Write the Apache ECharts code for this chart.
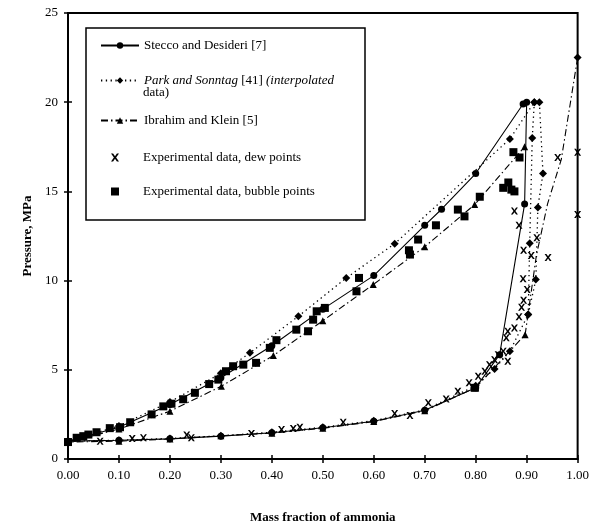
<!DOCTYPE html>
<html><head><meta charset="utf-8">
<script src="https://cdn.jsdelivr.net/npm/echarts@6/dist/echarts.min.js"></script>
<style>html,body{margin:0;padding:0;background:#fff}#c{width:592px;height:531px}</style>
</head><body><div id="c"></div>
<script>
// ---------- data (mass fraction, pressure MPa) ----------
const steccoData = [[0,1.0],[0.1,1.78],[0.2,3.05],[0.3,4.55],[0.4,6.35],[0.5,8.4],[0.6,10.28],[0.7,13.1],[0.733,14.0],[0.8,16.0],[0.893,19.9],[0.9,20.0],[0.896,14.3],[0.847,5.85],[0.8,4.0],[0.7,2.73],[0.6,2.12],[0.5,1.75],[0.4,1.47],[0.3,1.28],[0.2,1.13],[0.1,1.05],[0,1.0]];
const parkMain = [[0,1.0],[0.1,1.85],[0.2,3.2],[0.3,4.8],[0.357,5.95],[0.452,8.0],[0.546,10.15],[0.641,12.07],[0.867,17.94],[0.915,20.0],[0.925,20.0],[0.932,16.0],[0.922,14.1],[0.918,10.06],[0.903,8.1],[0.867,6.04],[0.837,5.05],[0.8,4.1],[0.7,2.75],[0.6,2.15],[0.5,1.78],[0.4,1.5],[0.3,1.3],[0.2,1.15],[0.1,1.05],[0,1.0]];
const parkExtra = [[0.915,20.0],[0.911,18.0],[0.906,12.1],[0.903,8.1]];
const parkPure = [[1.0,22.5]];
const ibrahimBubble = [[0,0.95],[0.1,1.68],[0.2,2.68],[0.301,4.08],[0.403,5.8],[0.5,7.75],[0.599,9.78],[0.7,11.9],[0.798,14.26],[0.896,17.5]];
const ibrahimDew = [[1.0,22.5],[0.968,16.8],[0.941,14.3],[0.919,11.4],[0.897,6.97],[0.8,4.0],[0.7,2.7],[0.6,2.1],[0.5,1.72],[0.4,1.45],[0.3,1.3],[0.2,1.12],[0.1,1.0],[0,0.95]];
const dewPoints = [[0.063,1.0],[0.126,1.15],[0.148,1.19],[0.233,1.35],[0.242,1.19],[0.36,1.43],[0.419,1.65],[0.442,1.71],[0.455,1.78],[0.54,2.06],[0.641,2.55],[0.671,2.44],[0.707,3.15],[0.742,3.37],[0.765,3.8],[0.787,4.27],[0.805,4.64],[0.818,4.92],[0.827,5.29],[0.837,5.57],[0.854,6.04],[0.844,5.85],[0.863,5.48],[0.863,7.16],[0.86,6.79],[0.876,7.35],[0.885,7.97],[0.89,8.5],[0.894,8.9],[0.901,9.5],[0.893,10.1],[0.909,11.4],[0.894,11.7],[0.942,11.3],[0.92,12.4],[0.885,13.1],[0.876,13.9],[0.961,16.9],[1.0,17.2],[1.0,13.7]];
const bubblePoints = [[0,0.95],[0.017,1.19],[0.03,1.28],[0.04,1.37],[0.056,1.5],[0.082,1.73],[0.102,1.78],[0.122,2.06],[0.164,2.5],[0.187,2.95],[0.203,3.1],[0.226,3.35],[0.249,3.71],[0.277,4.2],[0.295,4.45],[0.31,4.92],[0.324,5.2],[0.344,5.29],[0.369,5.39],[0.396,6.23],[0.409,6.66],[0.448,7.25],[0.471,7.16],[0.481,7.81],[0.488,8.28],[0.504,8.47],[0.566,9.4],[0.571,10.15],[0.671,11.46],[0.669,11.7],[0.687,12.3],[0.722,13.1],[0.765,13.98],[0.778,13.6],[0.808,14.7],[0.854,15.2],[0.864,15.5],[0.87,15.1],[0.874,17.2],[0.886,16.9],[0.876,15.0],[0.798,3.99]];

const seriesNames = ['Stecco and Desideri [7]','Park and Sonntag [41] (interpolated data)','Ibrahim and Klein [5]','Experimental data, dew points','Experimental data, bubble points'];
const xTickLabels = ['0.00','0.10','0.20','0.30','0.40','0.50','0.60','0.70','0.80','0.90','1.00'];
const yTickLabels = ['0','5','10','15','20','25'];

// ---------- styling ----------
const FONT = 'Liberation Serif';
const BLK = '#000';
const xSym = 'path://M0,0 L2.6,0 L5,3.4 L7.4,0 L10,0 L6.4,5 L10,10 L7.4,10 L5,6.6 L2.6,10 L0,10 L3.6,5 Z';
const dashDot = [7,3,1.5,3];

const chart = echarts.init(document.getElementById('c'), null, {renderer:'canvas'});

const axisCommonX = {type:'value', min:0, max:1, interval:0.1, splitLine:{show:false}};
const axisCommonY = {type:'value', min:0, max:25, interval:5, splitLine:{show:false}};

function lg(name, top, extra){
  return Object.assign({
    data:[name], left:100, top:top, orient:'vertical', padding:0,
    itemWidth:38, itemHeight:8, selectedMode:false,
    textStyle:{fontFamily:FONT, fontSize:13, color:BLK}
  }, extra||{});
}
function lgPt(name, top){
  return {
    data:[name], left:111, top:top, orient:'vertical', padding:0,
    itemWidth:8, itemHeight:8, selectedMode:false,
    textStyle:{fontFamily:FONT, fontSize:13, color:BLK, padding:[0,0,0,19]}
  };
}

const option = {
  backgroundColor:'#fff',
  animation:false,
  grid:{left:68, right:14, top:13, bottom:72, show:true, borderColor:BLK, borderWidth:2, backgroundColor:'transparent'},
  xAxis:[
    Object.assign({}, axisCommonX, {
      position:'bottom',
      axisLine:{show:true, lineStyle:{color:BLK, width:2}},
      axisTick:{show:true, inside:false, length:4, lineStyle:{color:BLK, width:1.5}},
      axisLabel:{color:BLK, fontFamily:FONT, fontSize:13, margin:10, formatter:(v)=>xTickLabels[Math.round(v*10)]},
      name:'Mass fraction of ammonia', nameLocation:'middle', nameGap:52,
      nameTextStyle:{color:BLK, fontFamily:FONT, fontSize:13, fontWeight:'bold'}
    }),
    Object.assign({}, axisCommonX, {
      position:'bottom',
      axisLine:{show:false},
      axisTick:{show:true, inside:true, length:4, lineStyle:{color:BLK, width:1.5}},
      axisLabel:{show:false}
    })
  ],
  yAxis:[
    Object.assign({}, axisCommonY, {
      position:'left',
      axisLine:{show:true, lineStyle:{color:BLK, width:2}},
      axisTick:{show:true, inside:false, length:4, lineStyle:{color:BLK, width:1.5}},
      axisLabel:{color:BLK, fontFamily:FONT, fontSize:13, margin:10, formatter:(v)=>yTickLabels[Math.round(v/5)]},
      name:'Pressure, MPa', nameLocation:'middle', nameGap:33, nameRotate:90,
      nameTextStyle:{color:BLK, fontFamily:FONT, fontSize:13, fontWeight:'bold'}
    }),
    Object.assign({}, axisCommonY, {
      position:'left',
      axisLine:{show:false},
      axisTick:{show:true, inside:true, length:4, lineStyle:{color:BLK, width:1.5}},
      axisLabel:{show:false}
    })
  ],
  legend:[
    lg(seriesNames[0], 39),
    lg(seriesNames[1], 74, {formatter:()=>'{i|Park and Sonntag} [41] {i|(interpolated}',
      textStyle:{fontFamily:FONT, fontSize:13, color:BLK, rich:{i:{fontFamily:FONT, fontSize:13, fontStyle:'italic', color:BLK}}}}),
    lg(seriesNames[2], 114),
    lgPt(seriesNames[3], 151),
    lgPt(seriesNames[4], 185)
  ],
  graphic:[
    {type:'rect', shape:{x:86, y:28, width:279, height:192}, style:{fill:'transparent', stroke:BLK, lineWidth:1.5}, z:0},
    {type:'text', left:143, top:86, style:{text:'data)', fontFamily:FONT, fontSize:13, fill:BLK}}
  ],
  series:[
    {name:seriesNames[0], type:'line', data:steccoData, symbol:'circle', symbolSize:7,
     itemStyle:{color:BLK}, lineStyle:{color:BLK, width:1.1, type:'solid'}, z:3},
    {name:seriesNames[1], type:'line', data:parkMain, symbol:'diamond', symbolSize:8,
     itemStyle:{color:BLK}, lineStyle:{color:BLK, width:1.3, type:[1.3,3.5]}, z:3},
    {name:seriesNames[1], type:'line', data:parkExtra, symbol:'diamond', symbolSize:8,
     itemStyle:{color:BLK}, lineStyle:{color:BLK, width:1.3, type:[1.3,3.5]}, z:3},
    {name:seriesNames[1], type:'scatter', data:parkPure, symbol:'diamond', symbolSize:8,
     itemStyle:{color:BLK, opacity:1}, z:3},
    {name:seriesNames[2], type:'line', data:ibrahimBubble, symbol:'triangle', symbolSize:7,
     itemStyle:{color:BLK}, lineStyle:{color:BLK, width:1.1, type:dashDot}, z:3},
    {name:seriesNames[2], type:'line', symbol:'triangle', symbolSize:7,
     data:ibrahimDew.map(p => p[1] > 7.5 ? {value:p, symbol:'none'} : p),
     itemStyle:{color:BLK}, lineStyle:{color:BLK, width:1.1, type:dashDot}, z:3},
    {name:seriesNames[3], type:'scatter', data:dewPoints, symbol:xSym, symbolSize:7,
     itemStyle:{color:BLK, opacity:1}, z:4},
    {name:seriesNames[4], type:'scatter', data:bubblePoints, symbol:'rect', symbolSize:8,
     itemStyle:{color:BLK, opacity:1}, z:4}
  ]
};
chart.setOption(option);
</script>
</body></html>
